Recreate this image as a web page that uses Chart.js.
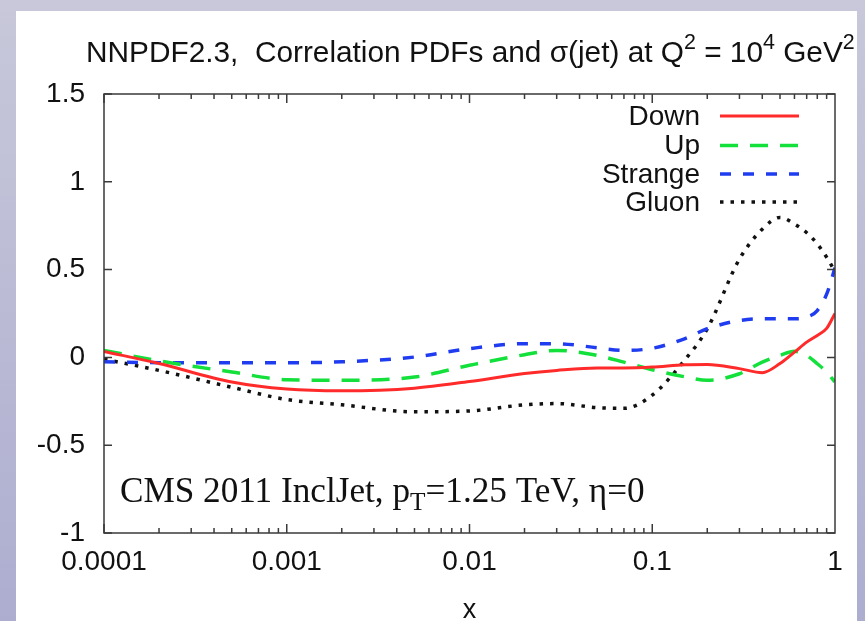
<!DOCTYPE html>
<html>
<head>
<meta charset="utf-8">
<script src="https://cdn.jsdelivr.net/npm/chart.js@4.4.1/dist/chart.umd.min.js"></script>
<style>
  html, body { margin: 0; padding: 0; background: #fff; }
  canvas { display: block; }
</style>
</head>
<body>
<canvas id="corrChart" width="865" height="621"></canvas>
<script>
// x grid (log) and correlation values per flavour
const xValues = [0.0001, 0.0002, 0.0005, 0.001, 0.002, 0.005, 0.01, 0.02, 0.03, 0.05, 0.07, 0.1, 0.15, 0.2, 0.3, 0.4, 0.5, 0.6, 0.7, 0.8, 0.9, 1];
const down    = [0.034, -0.035, -0.14, -0.18, -0.19, -0.175, -0.137, -0.092, -0.074, -0.06, -0.06, -0.055, -0.042, -0.04, -0.064, -0.087, -0.035, 0.03, 0.087, 0.125, 0.165, 0.25];
const up      = [0.04, -0.02, -0.083, -0.127, -0.13, -0.112, -0.045, 0.015, 0.04, 0.011, -0.027, -0.07, -0.11, -0.13, -0.093, -0.027, 0.011, 0.035, 0.011, -0.036, -0.083, -0.14];
const strange = [-0.025, -0.03, -0.03, -0.03, -0.025, 0.002, 0.05, 0.078, 0.078, 0.055, 0.04, 0.052, 0.106, 0.163, 0.21, 0.22, 0.22, 0.22, 0.229, 0.267, 0.36, 0.51];
const gluon   = [-0.01, -0.074, -0.17, -0.24, -0.27, -0.31, -0.305, -0.27, -0.263, -0.286, -0.29, -0.215, -0.017, 0.163, 0.56, 0.73, 0.797, 0.76, 0.71, 0.646, 0.57, 0.49];

const seriesNames = ['Down', 'Up', 'Strange', 'Gluon'];
const xTickValues = [0.0001, 0.001, 0.01, 0.1, 1];
const yTickStep = 0.5;

const SANS = '"Liberation Sans", Arial, Helvetica, sans-serif';
const SERIF = '"Liberation Serif", "Times New Roman", serif';

function toPoints(ys) {
  return xValues.map((x, i) => ({ x: x, y: ys[i] }));
}

// draws a run of text pieces, some raised or lowered
function drawRich(ctx, x, y, parts, size, family) {
  ctx.textAlign = 'left';
  ctx.textBaseline = 'alphabetic';
  parts.forEach(p => {
    let fs = size, dy = 0;
    if (p.sup) { fs = size * 0.72; dy = -size * 0.42; }
    if (p.sub) { fs = size * 0.72; dy = size * 0.22; }
    ctx.font = fs + 'px ' + family;
    ctx.fillText(p.t, x, y + dy);
    x += ctx.measureText(p.t).width;
  });
}

const pagePlugin = {
  id: 'page',
  beforeDraw(chart) {
    const ctx = chart.ctx;
    const g = ctx.createLinearGradient(0, 0, 0, chart.height);
    g.addColorStop(0, '#c8c8da');
    g.addColorStop(1, '#adadd0');
    ctx.save();
    ctx.fillStyle = g;
    ctx.fillRect(0, 0, chart.width, chart.height);
    ctx.fillStyle = '#ffffff';
    ctx.fillRect(16, 11, 841, 610);
    ctx.restore();
  },
  afterDraw(chart) {
    const ctx = chart.ctx;
    const xs = chart.scales.x, ys = chart.scales.y;
    const a = chart.chartArea;
    ctx.save();

    // frame with inward ticks on all sides
    ctx.strokeStyle = '#3a3a3a';
    ctx.lineWidth = 1.5;
    ctx.strokeRect(a.left, a.top, a.right - a.left, a.bottom - a.top);
    ctx.beginPath();
    for (let d = -4; d < 0; d++) {
      for (let m = 1; m <= 9; m++) {
        const v = m * Math.pow(10, d);
        const px = xs.getPixelForValue(v);
        const len = m === 1 ? 9 : 5;
        ctx.moveTo(px, a.bottom); ctx.lineTo(px, a.bottom - len);
        ctx.moveTo(px, a.top); ctx.lineTo(px, a.top + len);
      }
    }
    for (let v = ys.min; v <= ys.max + 1e-9; v += yTickStep) {
      const py = ys.getPixelForValue(v);
      ctx.moveTo(a.left, py); ctx.lineTo(a.left + 8, py);
      ctx.moveTo(a.right, py); ctx.lineTo(a.right - 8, py);
    }
    ctx.stroke();

    // key, top right
    ctx.font = '28px ' + SANS;
    ctx.textAlign = 'right';
    ctx.textBaseline = 'middle';
    const rows = [116, 145.5, 174, 202];
    chart.data.datasets.forEach((ds, i) => {
      const y = rows[i];
      ctx.fillStyle = '#111';
      ctx.fillText(ds.label, 700, y + 1);
      ctx.strokeStyle = ds.borderColor;
      ctx.lineWidth = ds.borderWidth;
      ctx.setLineDash(ds.borderDash || []);
      ctx.lineCap = 'butt';
      ctx.beginPath();
      ctx.moveTo(720, y);
      ctx.lineTo(799, y);
      ctx.stroke();
    });
    ctx.setLineDash([]);

    // title
    ctx.fillStyle = '#111';
    drawRich(ctx, 86, 62, [
      { t: 'NNPDF2.3,  Correlation PDFs and \u03c3(jet) at Q' },
      { t: '2', sup: true },
      { t: ' = 10' },
      { t: '4', sup: true },
      { t: ' GeV' },
      { t: '2', sup: true }
    ], 29.8, SANS);

    // kinematics label
    drawRich(ctx, 120, 502, [
      { t: 'CMS 2011 InclJet, p' },
      { t: 'T', sub: true },
      { t: '=1.25 TeV, \u03b7=0' }
    ], 35.2, SERIF);

    ctx.restore();
  }
};

const ctx = document.getElementById('corrChart').getContext('2d');

new Chart(ctx, {
  type: 'line',
  data: {
    datasets: [
      { label: seriesNames[0], data: toPoints(down), borderColor: '#ff2a2a', borderWidth: 3 },
      { label: seriesNames[1], data: toPoints(up), borderColor: '#14e03c', borderWidth: 3.5, borderDash: [18, 12] },
      { label: seriesNames[2], data: toPoints(strange), borderColor: '#1f3cf0', borderWidth: 3.5, borderDash: [11, 12] },
      { label: seriesNames[3], data: toPoints(gluon), borderColor: '#111111', borderWidth: 3.5, borderDash: [3.5, 7] }
    ]
  },
  options: {
    responsive: false,
    devicePixelRatio: 1,
    animation: false,
    layout: { padding: { left: 0, right: 30, top: 94, bottom: 0 } },
    elements: {
      point: { radius: 0 },
      line: { cubicInterpolationMode: 'monotone', fill: false }
    },
    plugins: {
      legend: { display: false },
      tooltip: { enabled: false },
      title: { display: false }
    },
    scales: {
      x: {
        type: 'logarithmic',
        min: 0.0001,
        max: 1,
        grid: { display: false, drawTicks: false },
        border: { display: false },
        afterBuildTicks: scale => { scale.ticks = xTickValues.map(v => ({ value: v })); },
        afterFit: scale => { scale.height = 88; },
        ticks: {
          color: '#111',
          padding: 12,
          maxRotation: 0,
          autoSkip: false,
          font: { family: SANS, size: 28 },
          callback: v => String(v)
        },
        title: {
          display: true,
          text: 'x',
          color: '#111',
          font: { family: SANS, size: 27, lineHeight: 0.8 },
          padding: { top: 0, bottom: 0 }
        }
      },
      y: {
        min: -1,
        max: 1.5,
        grid: { display: false, drawTicks: false },
        border: { display: false },
        afterFit: scale => { scale.width = 104; },
        ticks: {
          stepSize: yTickStep,
          color: '#111',
          padding: 19,
          font: { family: SANS, size: 28 },
          callback: v => String(v)
        }
      }
    }
  },
  plugins: [pagePlugin]
});
</script>
</body>
</html>
